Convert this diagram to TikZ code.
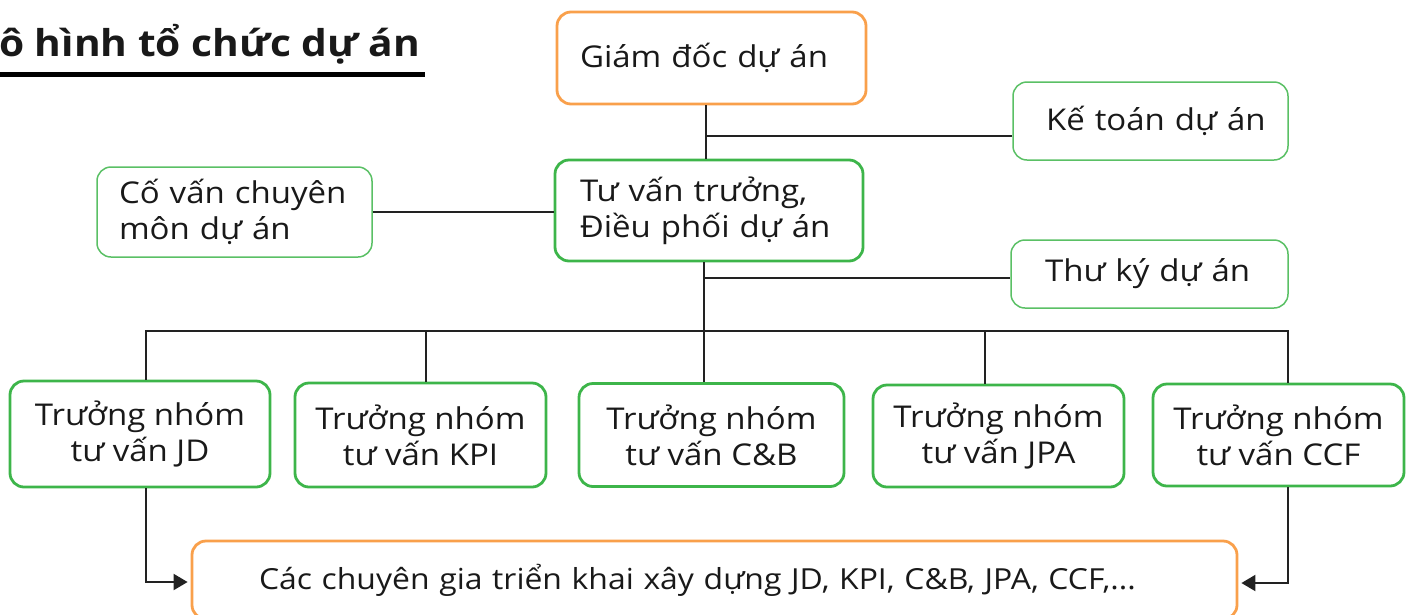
\documentclass[tikz,border=0pt]{standalone}
\usepackage{fontspec}
\setmainfont{Open Sans}[FakeStretch=1.1]
\usetikzlibrary{arrows.meta,calc}
\definecolor{gr}{HTML}{3DB54A}
\definecolor{orn}{HTML}{F9A04B}
\definecolor{ln}{HTML}{222222}
\begin{document}
\begin{tikzpicture}[x=1pt,y=-1pt,
  every node/.style={font=\fontsize{30}{36}\selectfont, text=black!90},
  boxbase/.style={rounded corners=14pt, inner ysep=0pt},
  thickg/.style={boxbase, draw=gr, line width=2.8pt},
  thing/.style={boxbase, draw=gr!85, line width=1.5pt},
  orbox/.style={boxbase, draw=orn, line width=2.8pt},
  conn/.style={draw=ln, line width=2pt},
  arr/.style={conn, -{Triangle[length=14pt,width=16pt]}, shorten >=3pt}]
\useasboundingbox (0,0) rectangle (1414,614);
% title
\node[anchor=base west, inner sep=0pt, font=\fontsize{37}{42}\selectfont\bfseries] (title) at (-1,56) {ô hình tổ chức dự án};
\draw[line width=5pt] (0,74) -- (425,74);
% top boxes
\node[orbox, minimum width=309pt, minimum height=92pt, text width=263pt, inner xsep=23pt, align=left] (gd) at (711.5,58) {Giám đốc dự án};
\node[thing, minimum width=275pt, minimum height=78pt, text width=250pt, inner xsep=12.5pt, align=left] (kt) at (1150.5,121) {\hspace*{20.5pt}Kế toán dự án};
\node[thickg, minimum width=308pt, minimum height=101pt, text width=258pt, inner xsep=25pt, align=left] (tv) at (709,210.5) {Tư vấn trưởng,\\Điều phối dự án};
\node[thing, minimum width=275pt, minimum height=90pt, text width=231pt, inner xsep=22pt, align=left] (cv) at (234.5,212) {Cố vấn chuyên\\môn dự án};
\node[thing, minimum width=277pt, minimum height=68pt, text width=252pt, inner xsep=12.5pt, align=left] (tk) at (1149.5,274) {\hspace*{21.5pt}Thư ký dự án};
% team leads
\node[thickg, minimum width=260pt, minimum height=106pt, align=center] (jd) at (140,434) {Trưởng nhóm\\tư vấn JD};
\node[thickg, minimum width=251pt, minimum height=104pt, align=center] (kpi) at (420.5,435) {Trưởng nhóm\\tư vấn KPI};
\node[thickg, minimum width=265pt, minimum height=103pt, align=center] (cb) at (711.5,435) {Trưởng nhóm\\tư vấn C\&B};
\node[thickg, minimum width=251pt, minimum height=102pt, align=center] (jpa) at (998.5,436) {Trưởng nhóm\\tư vấn JPA};
\node[thickg, minimum width=251pt, minimum height=102pt, align=center] (ccf) at (1278.5,435) {Trưởng nhóm\\tư vấn CCF};
% experts
\node[orbox, minimum width=1045pt, minimum height=78pt, text width=911pt, inner xsep=67pt, align=left, font=\fontsize{29}{36}\selectfont] (ex) at (714.5,580) {Các chuyên gia triển khai xây dựng JD, KPI, C\&B, JPA, CCF,...};
% connectors
\coordinate (bus) at (0,331);
\coordinate (j1) at (706,136);
\coordinate (j2) at (704,278);
\draw[conn] ([xshift=-5.5pt]gd.south) -- ([xshift=-3pt]tv.north);
\draw[conn] (j1) -- (j1 -| kt.west);
\draw[conn] (cv.east) -- (cv.east -| tv.west);
\draw[conn] ([xshift=-5pt]tv.south) -- ([xshift=-7.5pt]cb.north);
\draw[conn] (j2) -- (j2 -| tk.west);
\draw[conn] ([xshift=6pt]jd.north) |- ([xshift=9.5pt]ccf.north |- bus) -- ([xshift=9.5pt]ccf.north);
\draw[conn] ([xshift=5.5pt]kpi.north) -- ([xshift=5.5pt]kpi.north |- bus);
\draw[conn] ([xshift=-13.5pt]jpa.north) -- ([xshift=-13.5pt]jpa.north |- bus);
\draw[arr] ([xshift=6pt]jd.south) |- ([yshift=-2pt]ex.west);
\draw[arr] ([xshift=9.5pt]ccf.south) |- ([yshift=-3pt]ex.east);
\end{tikzpicture}
\end{document}
